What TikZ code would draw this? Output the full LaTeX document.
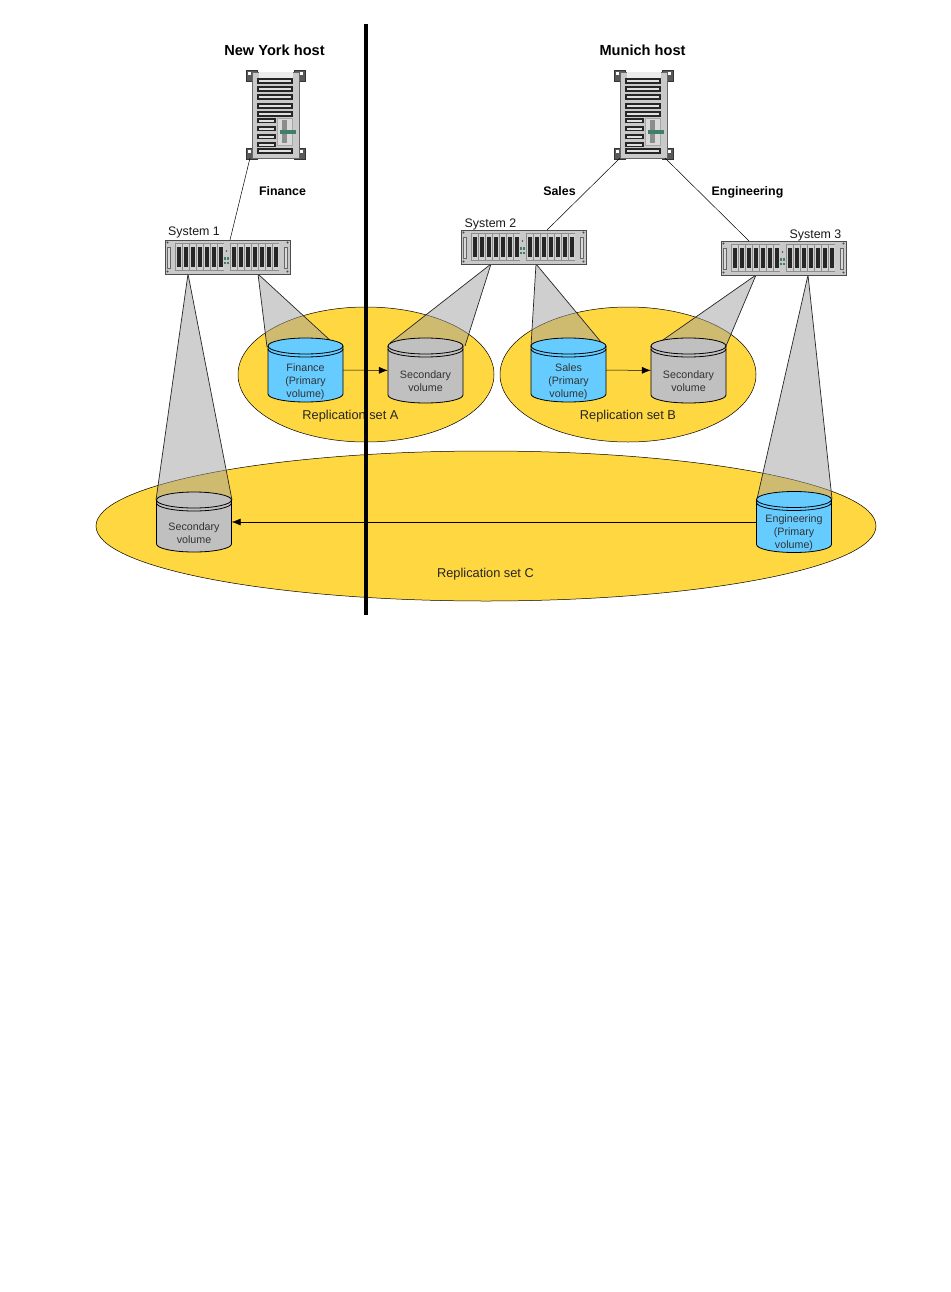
\documentclass[tikz,border=0pt]{standalone}
\usepackage{fontspec}
\setmainfont{Liberation Sans}
\usetikzlibrary{arrows.meta}
\definecolor{setyellow}{HTML}{FFD740}
\definecolor{primaryblue}{HTML}{66CCFF}
\definecolor{secondgray}{HTML}{C0C0C0}
\definecolor{coneg}{HTML}{A0A0A0}
\definecolor{bodyg}{HTML}{C9C9C9}
\definecolor{slotg}{HTML}{8E8E8E}
\definecolor{ledg}{HTML}{3E7F66}
\tikzset{
  setoval/.style={draw=black,line width=.5pt,fill=setyellow},
  conefill/.style={fill=coneg,fill opacity=.5,draw=none},
  coneedge/.style={draw=black!85,line width=.7pt},
  cylline/.style={draw=black,line width=.8pt},
  link/.style={draw=black,line width=.5pt},
  flow/.style={draw=black,line width=.5pt,-{Latex[length=9pt,width=7pt]}},
  bodytext/.style={font=\fontsize{10.7}{12.8}\selectfont,align=center,text=black!80,inner sep=0pt},
  settext/.style={font=\fontsize{12.8}{14}\selectfont,text=black!85,inner sep=0pt,anchor=base},
  systext/.style={font=\fontsize{12.4}{14}\selectfont,text=black!90,inner sep=0pt,anchor=base},
  linktext/.style={font=\bfseries\fontsize{12.4}{14}\selectfont,inner sep=0pt,anchor=base},
  hosttext/.style={font=\bfseries\fontsize{14.6}{16}\selectfont,inner sep=0pt,anchor=base},
}
% cone: apex x,y ; left x,y ; right x,y
\newcommand{\conepoly}[6]{%
  \fill[conefill] (#1,#2) -- (#3,#4) -- (#5,#6) -- cycle;
  \draw[coneedge] (#3,#4) -- (#1,#2) -- (#5,#6);
}
% cylinder: name, cx, cy, half height, fill, text offset, text
\newcommand{\drum}[7]{%
  \begin{scope}[shift={(#2,#3)}]
    \path[cylline,fill=#5] (-37.5,{-#4+8}) -- (-37.5,{#4-8}) arc[start angle=180,end angle=0,x radius=37.5,y radius=8] -- (37.5,{-#4+8}) arc[start angle=0,end angle=-180,x radius=37.5,y radius=8] -- cycle;
    \draw[cylline] (-37.5,{-#4+8}) arc[start angle=180,end angle=0,x radius=37.5,y radius=8];
    \draw[cylline] (-37.5,{-#4+11}) arc[start angle=180,end angle=0,x radius=37.5,y radius=8];
    \node[bodytext] at (0,#6) {#7};
  \end{scope}
  \node[inner sep=0pt,minimum width=75pt,minimum height={2*#4}] (#1) at (#2,#3) {};
}
% rack unit: name, left x, top y
\newcommand{\rackunit}[3]{%
  \begin{scope}[shift={(#2,#3)}]
    \draw[black!70,line width=.6pt,fill=bodyg] (0,0) rectangle (125,34);
    \foreach \cx/\cy in {2.5/2.5,122.5/2.5,2.5/31.5,122.5/31.5} \fill[black!70] (\cx,\cy) circle (1.2);
    \draw[black!60,fill=white!85!black,line width=.5pt] (2.5,7) rectangle (5.5,28);
    \draw[black!60,fill=white!85!black,line width=.5pt] (119.5,7) rectangle (122.5,28);
    \foreach \bx in {10,65}{
      \fill[slotg] (\bx,3) rectangle ({\bx+49},31);
      \foreach \k in {0,...,6}{
        \fill[bodyg!85!white] ({\bx+.6+\k*7},3.6) rectangle ({\bx+6.5+\k*7},30.4);
        \fill[black!85] ({\bx+1.5+\k*7},7) rectangle ({\bx+5.6+\k*7},27);
      }
    }
    \fill[black!70] (61.5,11) circle (.8);
    \fill[ledg] (59,17) rectangle (61,19.5);
    \fill[ledg] (62,17) rectangle (64,19.5);
    \fill[ledg] (59,21.5) rectangle (61,24);
    \fill[ledg] (62,21.5) rectangle (64,24);
  \end{scope}
  \node[inner sep=0pt,minimum width=125pt,minimum height=34pt] (#1) at ({#2+62.5},{#3+17}) {};
}
% tower: name, left x, top y
\newcommand{\towerunit}[3]{%
  \begin{scope}[shift={(#2,#3)}]
    \foreach \fx in {0,48}{
      \foreach \fy in {0,78}{
        \draw[black!80,fill=black!65,line width=.5pt] (\fx,\fy) rectangle ({\fx+11},{\fy+11});
      }
    }
    \foreach \fx in {2,54}{
      \foreach \fy in {2,80}{
        \fill[white] (\fx,\fy) rectangle ({\fx+3},{\fy+3});
      }
    }
    \draw[black!60,fill=bodyg,line width=.6pt] (6,2) rectangle (53,88);
    \fill[black!8] (13,2) rectangle (47,8);
    \foreach \sy in {9,17,25,34,42}{
      \draw[black!85,fill=black!12,line width=1.1pt] (12,\sy) rectangle (46,{\sy+4});
    }
    \foreach \sy in {49,57,65,73}{
      \draw[black!85,fill=black!12,line width=1.1pt] (12,\sy) rectangle (29,{\sy+3.8});
    }
    \draw[black!85,fill=black!12,line width=1.1pt] (12,79) rectangle (46,83);
    \draw[black!35,fill=black!15,line width=.5pt] (31,48) rectangle (46,75);
    \fill[black!45] (36,50) rectangle (41,73);
    \fill[ledg] (34,60) rectangle (50,64.5);
  \end{scope}
  \node[inner sep=0pt,minimum width=59pt,minimum height=88pt] (#1) at ({#2+29.5},{#3+44}) {};
}
\begin{document}
\begin{tikzpicture}[x=1pt,y=-1pt]
\useasboundingbox (0,0) rectangle (950,1292);
\fill[white] (0,0) rectangle (950,1292);

% replication-set ovals
\draw[setoval] (486,526) ellipse[x radius=390,y radius=75];
\draw[setoval] (366,374.5) ellipse[x radius=128,y radius=67.5];
\draw[setoval] (628,374.5) ellipse[x radius=128,y radius=67.5];

% cones
\conepoly{258}{274}{267}{347}{332}{342}
\conepoly{491}{264}{390}{343}{465}{346}
\conepoly{536}{264}{531}{346}{601}{342}
\conepoly{756}{275}{660}{342}{726}{346}
\conepoly{188}{274}{156}{500}{232}{500}
\conepoly{808}{275}{757}{499}{832}{499}

% volumes
\drum{finance}{305.5}{370}{32}{primaryblue}{11.5}{Finance\\(Primary\\volume)}
\drum{secA}{425.5}{370.5}{32.5}{secondgray}{11}{Secondary\\volume}
\drum{sales}{568.5}{370}{32}{primaryblue}{11.5}{Sales\\(Primary\\volume)}
\drum{secB}{688.5}{370.5}{32.5}{secondgray}{11}{Secondary\\volume}
\drum{secC}{194}{522}{30}{secondgray}{11}{Secondary\\volume}
\drum{eng}{794}{522}{30.5}{primaryblue}{11}{Engineering\\(Primary\\volume)}

% replication arrows
\draw[flow] (finance) -- (secA);
\draw[flow] (sales) -- (secB);
\draw[flow] (eng) -- (secC);

% hardware
\towerunit{nyhost}{246}{70}
\towerunit{muhost}{614}{70}
\rackunit{sysone}{165}{240}
\rackunit{systwo}{461}{230}
\rackunit{systhree}{721}{241}

% host links
\coordinate (nyout) at (250,158);
\coordinate (sysonein) at (230,240);
\coordinate (muoutl) at (620,158);
\coordinate (systwoin) at (547,230);
\coordinate (muoutr) at (665,158);
\coordinate (systhreein) at (749,241);
\draw[link] (nyout) -- (sysonein);
\draw[link] (muoutl) -- (systwoin);
\draw[link] (muoutr) -- (systhreein);

% texts
\node[hosttext] (nyt) at (274.5,56) {New York host};
\node[hosttext] (mut) at (642.5,56) {Munich host};
\node[linktext] (lf) at (282.5,196) {Finance};
\node[linktext] (ls) at (559.5,196) {Sales};
\node[linktext] (le) at (747.5,196) {Engineering};
\node[systext] (s1) at (194,235.5) {System 1};
\node[systext] (s2) at (490.5,227.5) {System 2};
\node[systext] (s3) at (815.5,238) {System 3};
\node[settext] (ra) at (350.5,419) {Replication set A};
\node[settext] (rb) at (628,419) {Replication set B};
\node[settext] (rc) at (485.5,577) {Replication set C};

% divider
\coordinate (divtop) at (366,24);
\coordinate (divbot) at (366,615);
\draw[black,line width=4pt] (divtop) -- (divbot);
\end{tikzpicture}
\end{document}
